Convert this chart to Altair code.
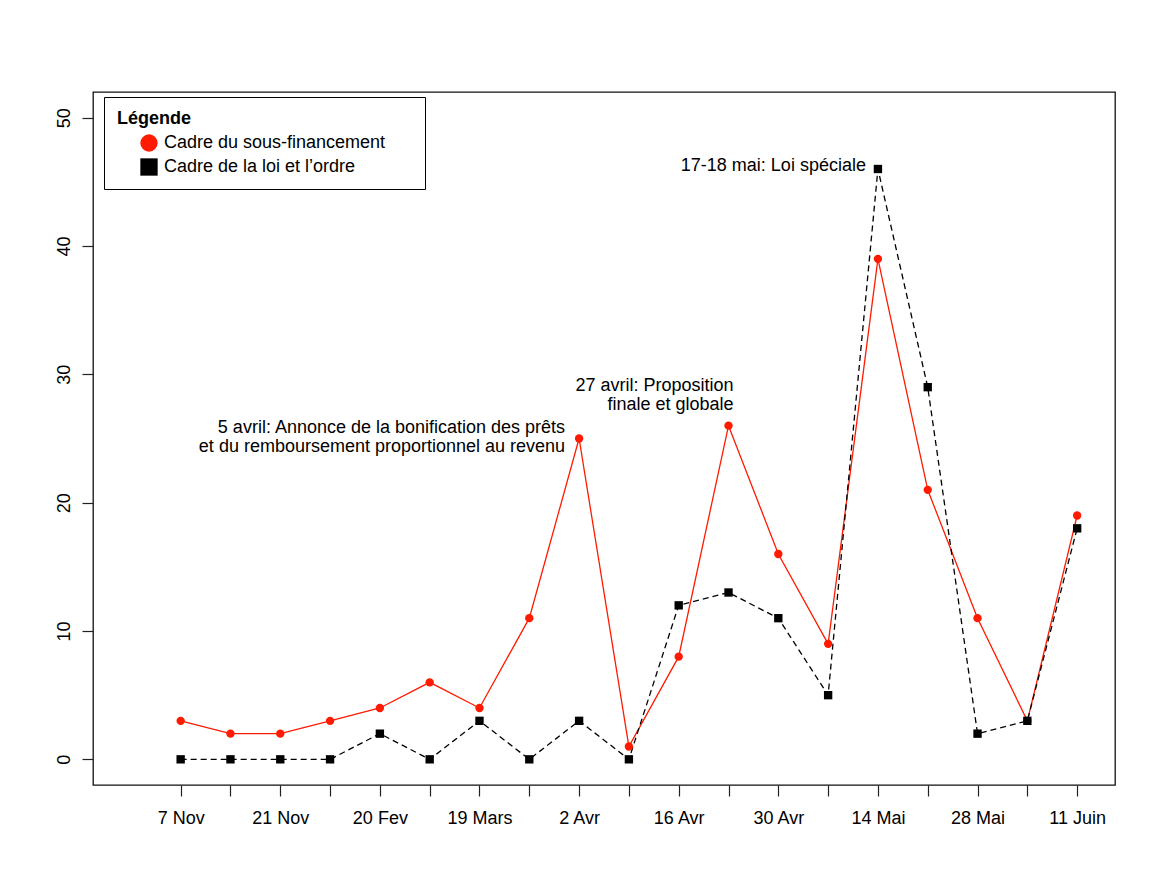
import altair as alt
import pandas as pd

# ---- data ----
positions = list(range(1, 20))
tick_labels = ["7 Nov", "", "21 Nov", "", "20 Fev", "", "19 Mars", "", "2 Avr", "",
               "16 Avr", "", "30 Avr", "", "14 Mai", "", "28 Mai", "", "11 Juin"]
sous_financement = [3, 2, 2, 3, 4, 6, 4, 11, 25, 1, 8, 26, 16, 9, 39, 21, 11, 3, 19]
loi_ordre = [0, 0, 0, 0, 2, 0, 3, 0, 3, 0, 12, 13, 11, 5, 46, 29, 2, 3, 18]
series_names = ["Cadre du sous-financement", "Cadre de la loi et l\u2019ordre"]
series_colors = ["#FF1A00", "#000000"]
series_shapes = ["circle", "square"]

ann1_text = ["5 avril: Annonce de la bonification des prêts",
             "et du remboursement proportionnel au revenu"]
ann1_pos, ann1_val = 9, 25
ann2_text = ["27 avril: Proposition", "finale et globale"]
ann2_pos, ann2_val = 12, 26
ann3_text = ["17-18 mai: Loi spéciale"]
ann3_pos, ann3_val = 15, 46

FONT = "Liberation Sans"
FS = 18

df = pd.DataFrame({
    "pos": positions * 2,
    "val": sous_financement + loi_ordre,
    "serie": [series_names[0]] * len(positions) + [series_names[1]] * len(positions),
})

label_array = "[" + ",".join("'" + t + "'" for t in tick_labels) + "]"

x_enc = alt.X("pos:Q",
              scale=alt.Scale(domain=[-0.76, 19.76], nice=False, zero=False),
              axis=alt.Axis(values=positions, labelExpr=label_array + "[datum.value - 1]",
                            title=None, grid=False, domain=False, ticks=True,
                            tickSize=11, tickWidth=1.2, tickColor="#222",
                            labelFontSize=FS, labelFont=FONT, labelColor="#000",
                            labelPadding=13, labelOverlap=False, labelFlush=False))
y_enc = alt.Y("val:Q",
              scale=alt.Scale(domain=[-2, 52], nice=False, zero=False),
              axis=alt.Axis(values=[0, 10, 20, 30, 40, 50], title=None, grid=False,
                            domain=False, tickSize=11, tickWidth=1.2, tickColor="#222",
                            labelFontSize=FS, labelFont=FONT, labelColor="#000",
                            labelAngle=270, labelAlign="center", labelBaseline="bottom",
                            labelPadding=9))

base = alt.Chart(df)

red_line = base.transform_filter(alt.datum.serie == series_names[0]).mark_line(
    color=series_colors[0], strokeWidth=1.3).encode(x=x_enc, y=y_enc)
black_line = base.transform_filter(alt.datum.serie == series_names[1]).mark_line(
    color=series_colors[1], strokeWidth=1.3, strokeDash=[6, 4]).encode(x=x_enc, y=y_enc)

points = base.mark_point(filled=True, opacity=1, size=70).encode(
    x=x_enc, y=y_enc,
    color=alt.Color("serie:N", scale=alt.Scale(domain=series_names, range=series_colors),
                    legend=alt.Legend(
                        title="Légende", orient="none", legendX=11, legendY=5,
                        padding=13, strokeColor="#000", fillColor="#fff",
                        titleFont=FONT, titleFontSize=FS, titleFontWeight="bold",
                        titleColor="#000", titlePadding=6,
                        labelFont=FONT, labelFontSize=FS, labelColor="#000",
                        labelOffset=6, symbolSize=300, symbolOffset=23,
                        symbolStrokeWidth=0, rowPadding=6, labelLimit=400,
                        labelExpr="datum.label + '\u2800\u2800'")),
    shape=alt.Shape("serie:N", scale=alt.Scale(domain=series_names, range=series_shapes)),
    order=alt.Order("serie:N", sort="descending"),
)


def annotation(text, pos, val, **kw):
    d = pd.DataFrame({"pos": [pos], "val": [val], "txt": [text]})
    return alt.Chart(d).mark_text(font=FONT, fontSize=FS, color="#000",
                                  lineHeight=19.5, **kw).encode(
        x=alt.X("pos:Q"), y=alt.Y("val:Q"), text="txt")


a1 = annotation(ann1_text, ann1_pos, ann1_val, align="right", baseline="middle", dx=-14, dy=-11)
a2 = annotation(ann2_text, ann2_pos, ann2_val, align="right", baseline="middle", dx=5, dy=-40)
a3 = annotation(ann3_text, ann3_pos, ann3_val, align="right", baseline="middle", dx=-12, dy=-3)

chart = alt.layer(red_line, black_line, points, a1, a2, a3).properties(
    width=1022, height=693,
    autosize=alt.AutoSizeParams(type="none"),
    padding={"left": 85, "top": 84, "right": 30, "bottom": 70},
    background="white",
).configure_view(stroke="#111", strokeWidth=1.3)

chart.save("out.html", embed_options={"renderer": "svg", "actions": False})
